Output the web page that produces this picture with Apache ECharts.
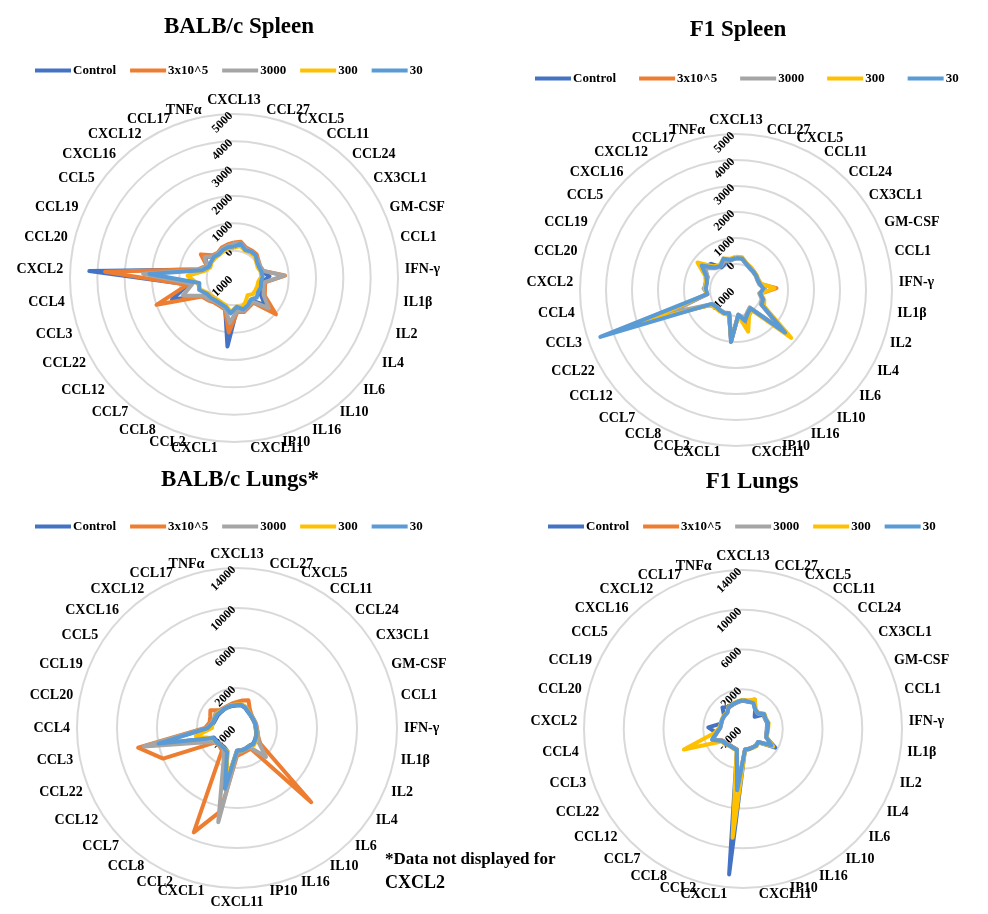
<!DOCTYPE html>
<html>
<head>
<meta charset="utf-8">
<script src="https://cdn.jsdelivr.net/npm/echarts@6/dist/echarts.min.js"></script>
<style>
html,body{margin:0;padding:0;background:#fff;}
#chart{width:988px;height:914px;}
</style>
</head>
<body>
<div id="chart"></div>
<script>
// ---------- categories ----------
const categories = ['CXCL13','CCL27','CXCL5','CCL11','CCL24','CX3CL1','GM-CSF','CCL1','IFN-γ','IL1β','IL2','IL4','IL6','IL10','IL16','IP10','CXCL11','CXCL1','CCL2','CCL8','CCL7','CCL12','CCL22','CCL3','CCL4','CXCL2','CCL20','CCL19','CCL5','CXCL16','CXCL12','CCL17','TNFα'];
const categoriesNoCXCL2 = categories.filter(c => c !== 'CXCL2');
const seriesNames = ['Control', '3x10^5', '3000', '300', '30'];

// ---------- BALB/c Spleen (33 values) ----------
const balbSpleenControl = [200, 250, 120, 150, 150, 50, 0, 50, 300, 50, 100, 100, 500, 50, 150, 200, 150, 1520, 150, 100, 100, 200, 300, 1400, 700, 4300, 300, 50, 300, 100, 50, 150, 200];
const balbSpleen3e5     = [300, 350, 200, 200, 200, 100, 50, 100, 870, 150, 200, 300, 1030, 150, 200, 300, 250, 1000, 200, 150, 150, 250, 350, 2000, 720, 3720, 350, 100, 490, 150, 100, 200, 250];
const balbSpleen3000    = [250, 300, 150, 150, 150, 80, 50, 100, 850, 100, 150, 250, 680, 100, 150, 250, 200, 650, 150, 100, 100, 200, 300, 980, 540, 2330, 300, 80, 320, 100, 80, 150, 200];
const balbSpleen300     = [100, 200, 80, 100, 100, 0, -50, 0, 0, -100, -100, -100, -100, -200, -50, 100, 50, 250, 50, 0, 0, 50, 100, 300, 350, 700, 100, -50, 0, 0, 0, 50, 100];
const balbSpleen30      = [150, 280, 100, 150, 150, 30, 0, 30, 50, 0, 40, 20, 100, 0, 120, 200, 60, 300, 100, 60, 60, 110, 150, 350, 280, 2100, 200, 0, 30, 60, 30, 100, 150];

// ---------- F1 Spleen (33 values) ----------
const f1SpleenControl = [230, 230, 80, 0, -30, -50, -80, -50, 100, -60, 100, 200, 1300, -100, 0, 200, -40, 1000, -60, 0, 0, 0, 160, 2200, 120, 200, 200, 200, 500, 390, 30, 100, 180];
const f1Spleen3e5     = [250, 250, 100, 20, 0, -30, -60, -30, 560, -40, 120, 200, 1500, -80, 50, 400, -20, 950, -40, 20, 20, 20, 150, 2000, 130, 200, 180, 220, 550, 250, 100, 200, 200];
const f1Spleen3000    = [220, 220, 60, -20, -50, -70, -100, -80, 100, -100, 50, 100, 1400, -150, -50, 150, -50, 900, -80, -30, -30, -30, 100, 1730, 100, 250, 150, 200, 450, 150, 80, 200, 150];
const f1Spleen300     = [280, 280, 100, 50, 0, -30, -50, 0, 480, -50, 150, 250, 1810, 0, 100, 670, 0, 900, 0, 30, 30, 50, 150, 2800, 150, 200, 200, 300, 820, 250, 150, 300, 220];
const f1Spleen30      = [230, 230, 80, 0, -30, -50, -80, -50, 50, -60, 100, 150, 1500, -100, 0, 240, -40, 1000, -60, 0, 0, 0, 70, 4520, 120, 160, 150, 250, 620, 200, 100, 300, 180];

// ---------- BALB/c Lungs (32 values, no CXCL2) ----------
const balbLungsControl = [250, 300, 150, -50, -150, -200, -200, -150, -150, -50, 50, 150, 250, 150, 200, 250, 250, 3800, 500, 300, 300, 400, 500, 7200, 800, 400, 300, 300, 250, 250, 250, 250];
const balbLungs3e5     = [600, 800, 1000, 300, 0, -100, -100, -50, 0, 100, 300, 800, 8500, 500, 500, 600, 800, 6500, 9300, 700, 500, 600, 6000, 8080, 1200, 800, 900, 1200, 500, 400, 400, 500];
const balbLungs3000    = [350, 400, 300, 50, -100, -100, -100, -50, -50, 100, 300, 600, 2100, 300, 300, 400, 500, 7600, 1500, 500, 400, 500, 1800, 7500, 1000, 600, 500, 600, 400, 350, 350, 350];
const balbLungs300     = [350, 400, 250, 50, -100, -150, -150, -100, -100, 0, 100, 300, 400, 200, 250, 300, 300, 3500, 500, 400, 400, 500, 700, 2200, 500, 500, 400, 450, 350, 300, 300, 350];
const balbLungs30      = [300, 340, 200, 0, -100, -150, -150, -100, -100, 0, 100, 200, 300, 200, 250, 300, 300, 4200, 600, 400, 400, 500, 600, 6000, 900, 500, 400, 400, 300, 300, 300, 300];

// ---------- F1 Lungs (33 values) ----------
const f1LungsControl = [850, 800, 900, 250, -300, 500, 450, 500, 400, 400, 450, 1750, 50, 100, 80, 80, 100, 12700, 150, 100, 100, 250, 350, 1200, 700, 1500, 300, 300, 350, 1000, 600, 650, 750];
const f1Lungs3e5     = [900, 900, 1200, 300, 150, 550, 450, 550, 450, 400, 450, 1400, 0, 100, 80, 80, 80, 4000, 150, 100, 100, 250, 350, 1200, 650, 300, 250, 280, 300, 300, 650, 700, 800];
const f1Lungs3000    = [880, 820, 900, 280, 150, 550, 450, 550, 450, 400, 450, 1300, 0, 100, 80, 80, 80, 4100, 150, 100, 100, 250, 350, 1250, 650, 300, 250, 280, 280, 270, 650, 700, 780];
const f1Lungs300     = [950, 900, 1200, 350, 250, 650, 550, 650, 550, 500, 500, 1500, 100, 200, 150, 150, 150, 9000, 250, 200, 200, 350, 500, 4300, 900, 400, 300, 350, 350, 320, 700, 750, 850];
const f1Lungs30      = [900, 800, 800, 300, 200, 600, 500, 600, 500, 450, 470, 1300, 0, 150, 100, 100, 100, 4200, 200, 150, 150, 300, 400, 1300, 670, 300, 260, 300, 300, 270, 670, 700, 800];

// ---------- axis ranges ----------
const spleenMin = -1000, spleenMax = 5000, spleenSplits = 6;
const lungsMin = -2000, lungsMax = 14000, lungsSplits = 4;

// ---------- styling ----------
const colors = ['#4472C4', '#ED7D31', '#A5A5A5', '#FFC000', '#5B9BD5'];
const FONT = '"Liberation Serif", "Times New Roman", serif';

// clockwise order (ECharts radar runs counter-clockwise)
function cw(arr) { return [arr[0]].concat(arr.slice(1).reverse()); }

const charts = [
  { title: 'BALB/c Spleen', cats: categories, data: [balbSpleenControl, balbSpleen3e5, balbSpleen3000, balbSpleen300, balbSpleen30],
    min: spleenMin, max: spleenMax, splits: spleenSplits, center: [234, 278], radius: 164,
    titlePos: [234, 11], legendPos: [30, 59], legendGap: 14 },
  { title: 'F1 Spleen', cats: categories, data: [f1SpleenControl, f1Spleen3e5, f1Spleen3000, f1Spleen300, f1Spleen30],
    min: spleenMin, max: spleenMax, splits: spleenSplits, center: [736, 290], radius: 156,
    titlePos: [733, 14], legendPos: [530, 67], legendGap: 23 },
  { title: 'BALB/c Lungs*', cats: categoriesNoCXCL2, data: [balbLungsControl, balbLungs3e5, balbLungs3000, balbLungs300, balbLungs30],
    min: lungsMin, max: lungsMax, splits: lungsSplits, center: [237, 728], radius: 160,
    titlePos: [235, 464], legendPos: [30, 515], legendGap: 14 },
  { title: 'F1 Lungs', cats: categories, data: [f1LungsControl, f1Lungs3e5, f1Lungs3000, f1Lungs300, f1Lungs30],
    min: lungsMin, max: lungsMax, splits: lungsSplits, center: [743, 729], radius: 159,
    titlePos: [747, 466], legendPos: [543, 515], legendGap: 14 }
];

const option = {
  animation: false,
  backgroundColor: '#fff',
  title: [],
  legend: [],
  radar: [],
  series: []
};

charts.forEach((c, k) => {
  option.title.push({
    text: c.title, left: c.titlePos[0], top: c.titlePos[1], textAlign: 'center',
    textStyle: { fontFamily: FONT, fontWeight: 'bold', fontSize: 23, color: '#000' }
  });
  option.legend.push({
    data: seriesNames, left: c.legendPos[0], top: c.legendPos[1],
    icon: 'rect', itemWidth: 36, itemHeight: 4, itemGap: c.legendGap,
    textStyle: { fontFamily: FONT, fontWeight: 'bold', fontSize: 13, color: '#000', padding: [0, 0, 0, -3] }
  });
  option.radar.push({
    center: c.center, radius: c.radius, startAngle: 90, shape: 'circle',
    splitNumber: c.splits,
    indicator: cw(c.cats).map((n, i) => {
      const ind = { name: n, min: c.min, max: c.max };
      if (i === 0) {
        ind.axisLabel = { show: true, rotate: 45, margin: 3, fontFamily: FONT, fontWeight: 'bold', fontSize: 12, color: '#000',
          formatter: v => String(v) };
      }
      return ind;
    }),
    axisName: { color: '#000', fontFamily: FONT, fontWeight: 'bold', fontSize: 14 },
    nameGap: 7,
    splitLine: { lineStyle: { color: '#d9d9d9', width: 2 } },
    splitArea: { show: false },
    axisLine: { show: false },
    axisTick: { show: false },
    axisLabel: { show: false }
  });
  seriesNames.forEach((s, j) => {
    option.series.push({
      type: 'radar', radarIndex: k, name: s, symbol: 'none', z: 2 + j,
      lineStyle: { width: 4, color: colors[j] },
      itemStyle: { color: colors[j] },
      data: [{ name: s, value: cw(c.data[j]) }]
    });
  });
});

option.title.push({
  text: '*Data not displayed for', left: 380, top: 846,
  textStyle: { fontFamily: FONT, fontWeight: 'bold', fontSize: 17, color: '#000' }
});
option.title.push({
  text: 'CXCL2', left: 380, top: 869,
  textStyle: { fontFamily: FONT, fontWeight: 'bold', fontSize: 18, color: '#000' }
});

const chart = echarts.init(document.getElementById('chart'), null, { renderer: 'canvas' });
chart.setOption(option);
</script>
</body>
</html>
